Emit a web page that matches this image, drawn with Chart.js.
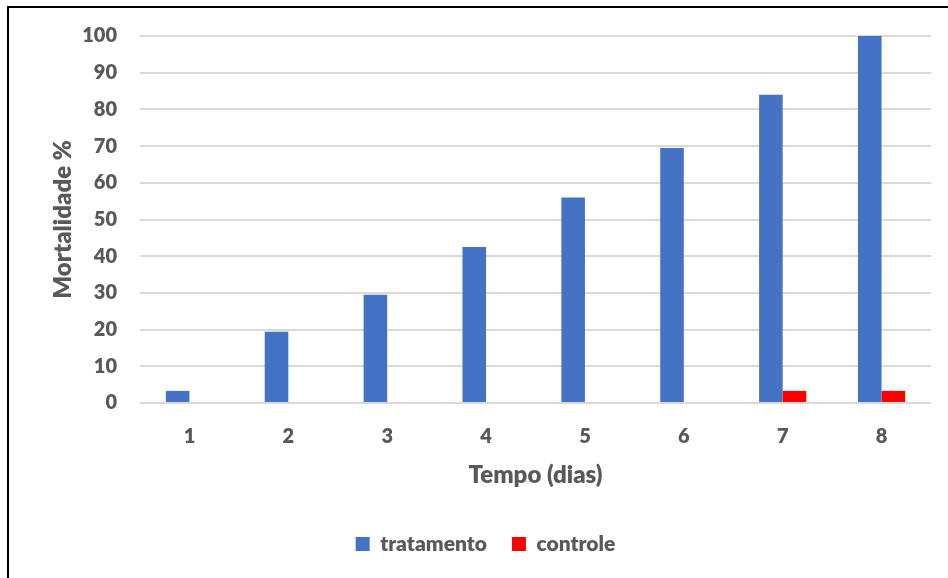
<!DOCTYPE html>
<html lang="pt">
<head>
<meta charset="utf-8">
<title>Mortalidade % por tempo</title>
<script src="https://cdn.jsdelivr.net/npm/chart.js@4/dist/chart.umd.min.js"></script>
<style>
  html, body { margin: 0; padding: 0; background: #ffffff; }
  #wrap { position: relative; width: 948px; height: 578px; overflow: hidden; }
  #frame {
    position: absolute; left: 7px; top: 6px; right: -10px; bottom: -10px;
    border-top: 2px solid #000; border-left: 2px solid #000;
    pointer-events: none;
  }
  canvas { position: absolute; left: 0; top: 0; }
</style>
</head>
<body>
<div id="wrap">
  <canvas id="chart" width="948" height="578"></canvas>
  <div id="frame"></div>
</div>
<script>
// Dias de observação
const categories = ['1', '2', '3', '4', '5', '6', '7', '8'];
// Mortalidade acumulada (%) em cada grupo
const tratamento = [3.3, 19.4, 29.5, 42.5, 56, 69.5, 84, 100];
const controle = [0, 0, 0, 0, 0, 0, 3.3, 3.3];
// Escala do eixo Y
const yTicks = [0, 10, 20, 30, 40, 50, 60, 70, 80, 90, 100];

const textGray = '#595959';
const fontFamily = 'Lato, "Open Sans", sans-serif';
const heavy = '800';

new Chart(document.getElementById('chart'), {
  type: 'bar',
  data: {
    labels: categories,
    datasets: [
      { label: 'tratamento', data: tratamento, backgroundColor: '#4472C4', borderWidth: 0 },
      { label: 'controle', data: controle, backgroundColor: '#FF0000', borderWidth: 0 }
    ]
  },
  options: {
    responsive: false,
    animation: false,
    devicePixelRatio: 1,
    categoryPercentage: 0.477,
    barPercentage: 1,
    layout: { padding: { left: 40, right: 17, top: 36, bottom: 13.5 } },
    plugins: {
      tooltip: { enabled: false },
      legend: {
        position: 'bottom',
        labels: {
          boxWidth: 14,
          boxHeight: 14,
          padding: 25,
          color: textGray,
          font: { family: fontFamily, size: 21, weight: heavy }
        }
      }
    },
    scales: {
      x: {
        grid: { display: false, drawTicks: false },
        border: { display: false },
        ticks: {
          color: textGray,
          padding: 22,
          font: { family: fontFamily, size: 20, weight: heavy }
        },
        title: {
          display: true,
          text: 'Tempo (dias)',
          color: textGray,
          padding: { top: 0, bottom: 19 },
          font: { family: fontFamily, size: 24, weight: heavy }
        },
        afterFit(scale) { scale.height = 105.5; }
      },
      y: {
        min: yTicks[0],
        max: yTicks[yTicks.length - 1],
        afterBuildTicks(scale) { scale.ticks = yTicks.map(v => ({ value: v })); },
        grid: { color: '#d9d9d9', lineWidth: 2, drawTicks: false },
        border: { display: false },
        ticks: {
          color: textGray,
          padding: 23,
          font: { family: fontFamily, size: 20, weight: heavy }
        },
        title: {
          display: true,
          text: 'Mortalidade %',
          color: textGray,
          padding: { top: 8.6, bottom: 0 },
          font: { family: fontFamily, size: 24, weight: heavy }
        },
        afterFit(scale) { scale.width = 100; }
      }
    }
  }
});
</script>
</body>
</html>
